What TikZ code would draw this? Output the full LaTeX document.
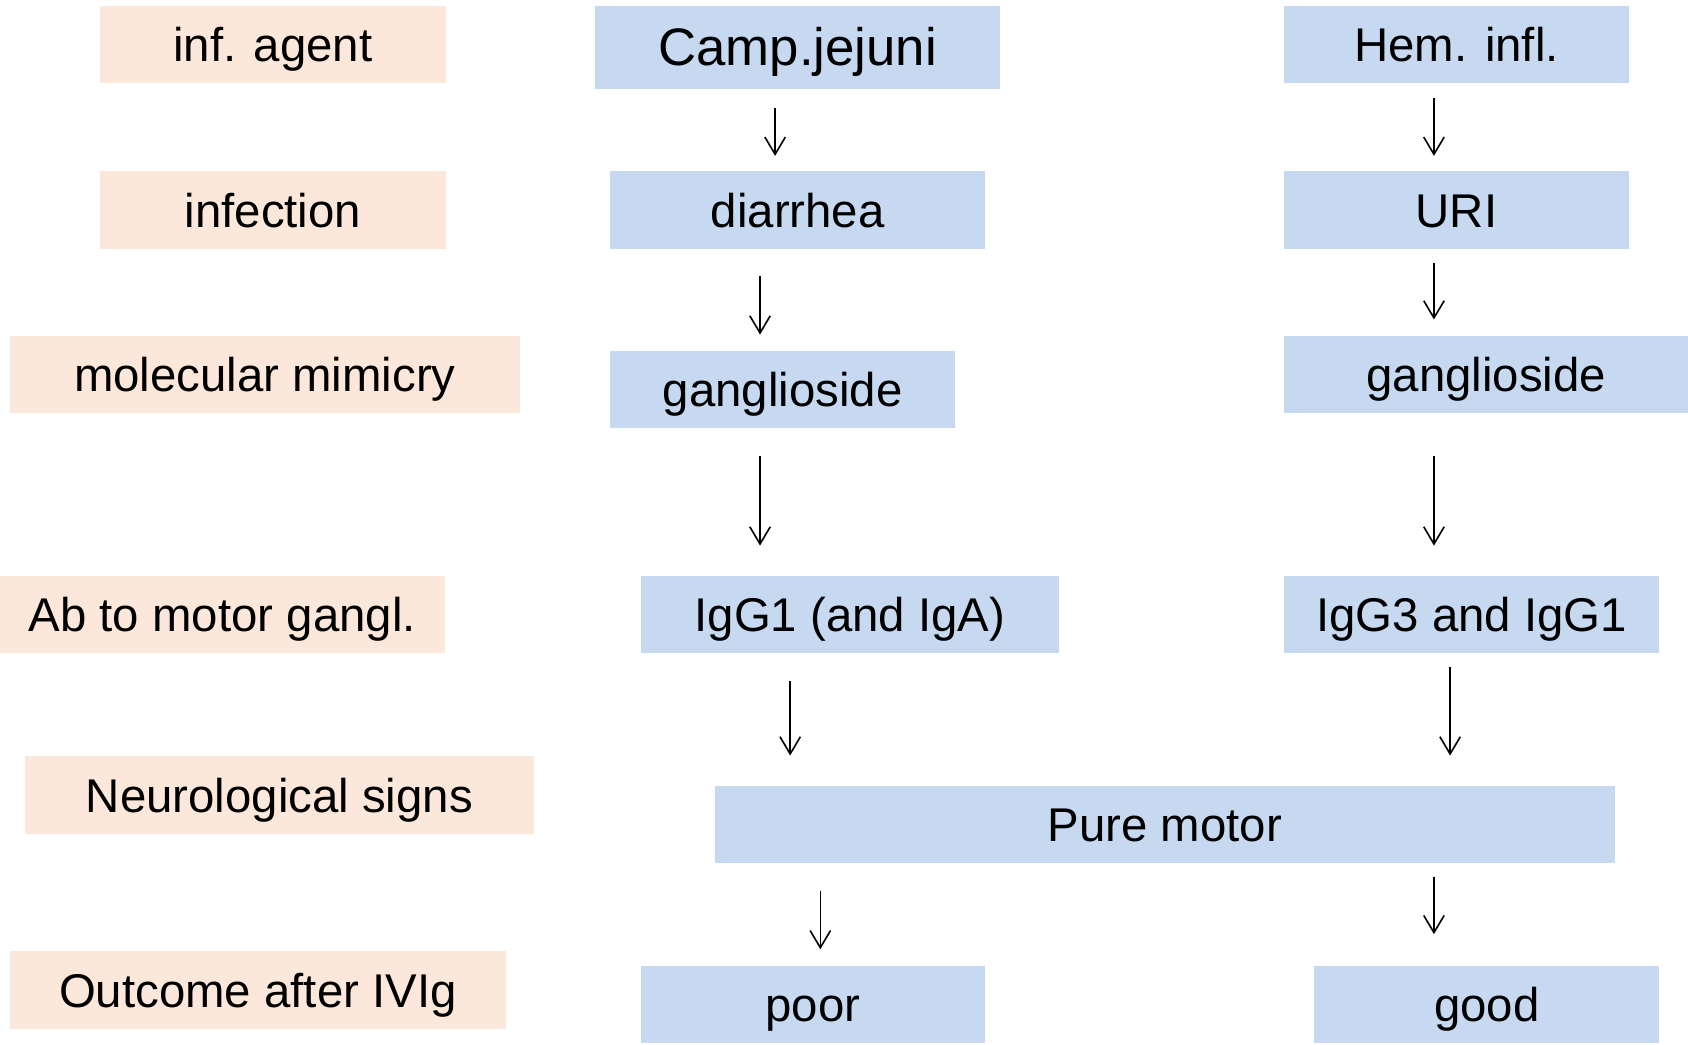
\documentclass[tikz,border=0pt]{standalone}
\usepackage{fontspec}
\setmainfont{Liberation Sans}
\usetikzlibrary{arrows.meta}
\definecolor{peach}{HTML}{FCE8DA}
\definecolor{paleblue}{HTML}{C6D9F0}

\begin{document}
\begin{tikzpicture}[x=1pt, y=-1pt,
  bx/.style={inner sep=0pt, minimum height=72pt, text height=36pt, text depth=4pt, font=\fontsize{44}{50}\selectfont},
  lvl/.style={bx, fill=peach}, st/.style={bx, fill=paleblue},
  >={Straight Barb[length=16pt,width=19pt]}, arr/.style={->, line width=1.5pt}]
\useasboundingbox (0,0) rectangle (1568,970);
% levels
\node[lvl, minimum width=321pt] (agent) at (253.5,41.5) {inf. agent};
\node[lvl, minimum width=321pt] (infec) at (253.5,195) {infection};
\node[lvl, minimum width=474pt] (mimic) at (246,348) {molecular mimicry};
\node[lvl, minimum width=413pt] (ab) at (206.5,571) {Ab to motor gangl.};
\node[lvl, minimum width=473pt] (neuro) at (259.5,738.5) {Neurological signs};
\node[lvl, minimum width=461pt] (outc) at (239.5,919.5) {Outcome after IVIg};
% Camp. jejuni route
\node[st, minimum width=376pt, minimum height=77pt, font=\fontsize{49}{55}\selectfont] (camp) at (741,44.5) {Camp.jejuni};
\node[st, minimum width=348pt] (diar) at (741,195) {diarrhea};
\node[st, minimum width=320pt] (gang) at (727,362) {ganglioside};
\node[st, minimum width=389pt] (igga) at (789.5,571) {IgG1 (and IgA)};
\node[st, minimum width=320pt] (poor) at (755,933) {poor};
% Hem. infl. route
\node[st, minimum width=320pt] (hem) at (1353,41.5) {Hem. infl.};
\node[st, minimum width=320pt] (uri) at (1353,195) {URI};
\node[st, minimum width=375pt] (gangr) at (1380.5,348) {ganglioside};
\node[st, minimum width=348pt] (iggb) at (1367,571) {IgG3 and IgG1};
\node[st, minimum width=320pt] (good) at (1381,933) {good};
\node[st, minimum width=836pt] (pure) at (1082,766) {Pure motor};
\foreach \a/\b/\x/\s/\e in {camp/diar/720/17/14, hem/uri/1332/13/14, diar/gang/706/25/15, uri/gangr/1332/13/15,
  gang/igga/706/25/28, gangr/iggb/1332/39/28, igga/pure/734/25/28, iggb/pure/1347/12/28,
  pure/poor/762/25/15, pure/good/1332/12/29}
  \draw[arr, shorten <=\s pt, shorten >=\e pt] (\a.south -| \x,0) -- (\b.north -| \x,0);
\end{tikzpicture}
\end{document}
